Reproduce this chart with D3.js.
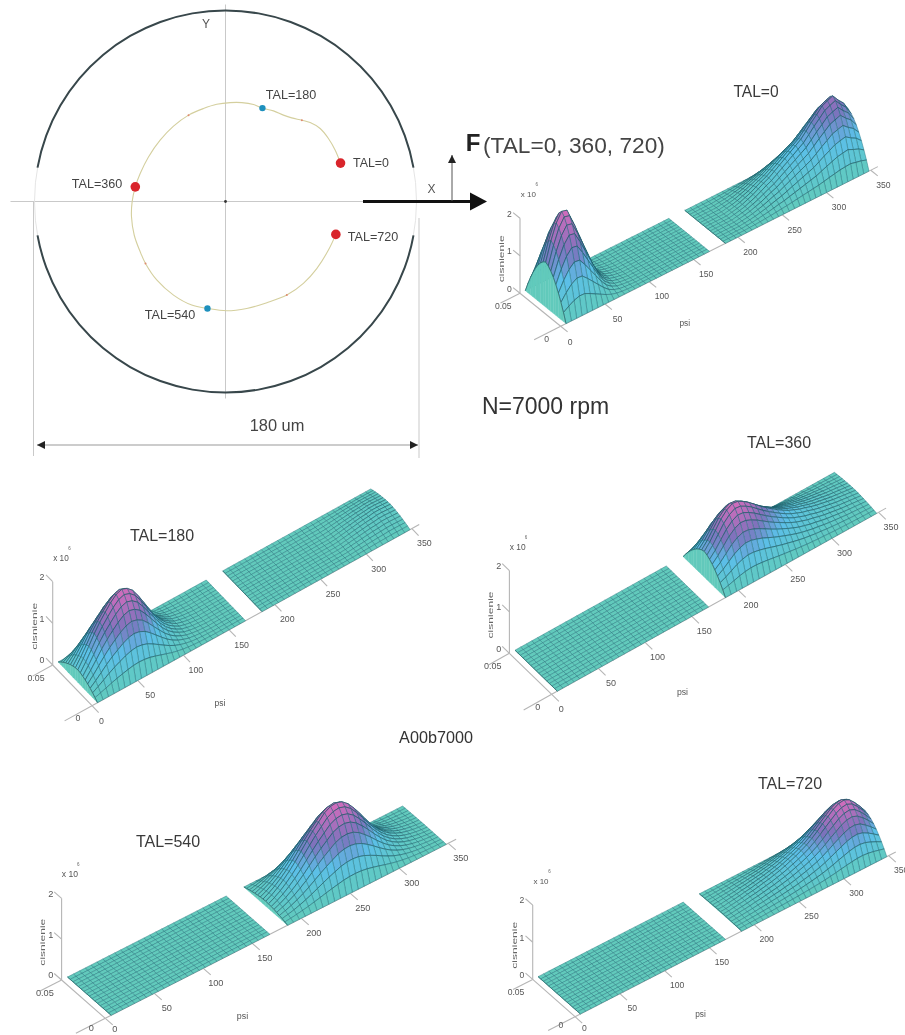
<!DOCTYPE html>
<html>
<head>
<meta charset="utf-8">
<script src="https://cdnjs.cloudflare.com/ajax/libs/d3/7.8.5/d3.min.js"></script>
<style>
  html, body { margin: 0; padding: 0; background: #fff; }
  svg { display: block; filter: blur(0.3px); }
  text { font-family: "Liberation Sans", sans-serif; }
</style>
</head>
<body>
<div id="chartContainer"></div>
<script>
// psi grid of the two bearing zones, the gap between them is not drawn
var psiA = [6,12,18,24,30,36,42,48,54,60,66,72,78,84,90,96,102,108,114,120,126,132,138,144,150,156,162,168];
var psiB = [186,192,198,204,210,216,222,228,234,240,246,252,258,264,270,276,282,288,294,300,306,312,318,324,330,336,342,348];

// share of the mid-width pressure across the bearing width
var axialShare = [0,0.2,0.38,0.54,0.68,0.8,0.89,0.96,1,0.96,0.89,0.8,0.68,0.54,0.38,0.2,0];

// mid-width pressure (x 10^6)
var tal0A = [1.2,1.7,2.1,2.34,2.3,1.95,1.55,1.15,0.75,0.42,0.22,0.1,0.05,0.02,0,0,0,0,0,0,0,0,0,0,0,0,0,0];
var tal0B = [0,0,0,0,0,0.03,0.06,0.1,0.16,0.22,0.3,0.38,0.45,0.55,0.65,0.75,0.85,0.95,1.05,1.2,1.36,1.5,1.65,1.72,1.78,1.6,1.45,1.2];
var tal180A = [0.3,0.5,0.72,0.95,1.15,1.32,1.48,1.6,1.65,1.6,1.48,1.28,1.05,0.82,0.6,0.42,0.28,0.18,0.1,0.06,0.03,0.015,0,0,0,0,0,0];
var tal180B = [0,0,0,0,0,0,0,0,0,0,0,0,0,0,0,0,0,0.01,0.03,0.05,0.07,0.09,0.11,0.12,0.14,0.14,0.13,0.12];
var tal360A = [0,0,0,0,0,0,0,0,0,0,0,0,0,0,0,0,0,0,0,0,0,0,0,0,0,0,0,0];
var tal360B = [0.62,0.78,0.98,1.18,1.32,1.4,1.38,1.3,1.2,1.08,0.96,0.85,0.75,0.65,0.56,0.48,0.42,0.36,0.32,0.27,0.23,0.2,0.17,0.14,0.12,0.1,0.08,0.06];
var tal540A = [0,0,0,0,0,0,0,0,0,0,0,0,0,0,0,0,0,0,0,0,0,0,0,0,0,0,0,0];
var tal540B = [0.12,0.2,0.3,0.42,0.56,0.72,0.9,1.08,1.25,1.4,1.55,1.63,1.65,1.6,1.48,1.3,1.1,0.88,0.68,0.5,0.36,0.25,0.17,0.11,0.07,0.04,0.02,0.01];
var tal720A = [0,0,0,0,0,0,0,0,0,0,0,0,0,0,0,0,0,0,0,0,0,0,0,0,0,0,0,0];
var tal720B = [0.02,0.03,0.05,0.07,0.09,0.12,0.14,0.17,0.2,0.23,0.27,0.31,0.36,0.42,0.48,0.55,0.63,0.73,0.85,0.98,1.1,1.22,1.3,1.32,1.25,1.1,0.92,0.72];

var psiTicks = [0,50,100,150,200,250,300,350];
var pressureTicks = [0,1,2];

// shaft centre orbit in um, from TAL=0 round to TAL=720
var orbitX = [54.2,51.7,48.5,44.6,39.9,36,31.2,27.3,22.6,17.4,13.2,7.7,2.2,-4.1,-10.4,-17.4,-24.5,-30.8,-36.3,-40.2,-42.5,-44,-44.3,-43,-40.2,-37.7,-32.3,-24.5,-15.9,-8.5,0.6,10,19.5,28.9,36.7,43,48.5,52];
var orbitY = [18.1,24.2,29.7,34.4,37.2,38.3,39.4,40.7,42.7,44,45.7,46.6,46.6,45.8,43.8,40.7,35.5,28.9,21,13.2,6.9,-0.2,-7.2,-15.9,-23.7,-29.2,-37.1,-44.1,-48.8,-50.4,-51.5,-50.4,-47.7,-44.1,-38.6,-31.6,-22.9,-15.5];
var bigMarkerIdx = [0,20,37];
var blueMarkerIdx = [9,29];
var tinyMarkerIdx = [5,15,25,33];
var orbitLabels = ["TAL=0","TAL=180","TAL=360","TAL=540","TAL=720"];

var width = 905, height = 1035;
var svg = d3.select("#chartContainer").append("svg")
  .attr("width", width)
  .attr("height", height);

var defs = svg.append("defs");
var head = defs.append("marker").attr("id", "smallHead")
  .attr("viewBox", "0 0 10 10").attr("refX", 10).attr("refY", 5)
  .attr("markerWidth", 9).attr("markerHeight", 8).attr("orient", "auto-start-reverse")
  .attr("markerUnits", "userSpaceOnUse");
head.append("path").attr("d", "M0,0L10,5L0,10Z").attr("fill", "#222");

// ---- orbit diagram ----
var cx = 225.5, cy = 201.5, R = 191;
var um = d3.scaleLinear().domain([-90, 90]).range([-R, R]);
var top_ = svg.append("g").attr("transform", "translate(" + cx + "," + cy + ")");

var gray = "#c9c9c9";
top_.append("line").attr("x1", -215).attr("x2", 140).attr("stroke", gray);
top_.append("line").attr("y1", -197).attr("y2", 197).attr("stroke", gray);
top_.append("circle").attr("r", R).attr("fill", "none").attr("stroke", "#e4e4e4");

var arc = d3.arc().innerRadius(R - 1).outerRadius(R + 1);
var gapAngle = 10.2 * Math.PI / 180;
top_.append("path")
  .attr("d", arc({startAngle: -Math.PI / 2 + gapAngle, endAngle: Math.PI / 2 - gapAngle}))
  .attr("fill", "#38474b");
top_.append("path")
  .attr("d", arc({startAngle: Math.PI / 2 + gapAngle, endAngle: 3 * Math.PI / 2 - gapAngle}))
  .attr("fill", "#38474b");

var orbit = orbitX.map(function (x, i) { return [um(x), -um(orbitY[i])]; });
top_.append("path")
  .attr("d", d3.line().curve(d3.curveCatmullRom)(orbit))
  .attr("fill", "none").attr("stroke", "#d4cf9e").attr("stroke-width", 1.1);
top_.selectAll(".tiny").data(tinyMarkerIdx).enter().append("circle")
  .attr("cx", function (d) { return orbit[d][0]; })
  .attr("cy", function (d) { return orbit[d][1]; })
  .attr("r", 1).attr("fill", "#e08a70");
top_.selectAll(".big").data(bigMarkerIdx).enter().append("circle")
  .attr("cx", function (d) { return orbit[d][0]; })
  .attr("cy", function (d) { return orbit[d][1]; })
  .attr("r", 4.8).attr("fill", "#d9252b");
top_.selectAll(".blue").data(blueMarkerIdx).enter().append("circle")
  .attr("cx", function (d) { return orbit[d][0]; })
  .attr("cy", function (d) { return orbit[d][1]; })
  .attr("r", 3.2).attr("fill", "#1e90bd");
top_.append("circle").attr("r", 1.4).attr("fill", "#333");

// dimension lines
svg.append("line").attr("x1", 33.5).attr("x2", 33.5).attr("y1", 201).attr("y2", 456).attr("stroke", gray);
svg.append("line").attr("x1", 419).attr("x2", 419).attr("y1", 218).attr("y2", 458).attr("stroke", gray);
svg.append("line").attr("x1", 37).attr("x2", 418).attr("y1", 445).attr("y2", 445)
  .attr("stroke", "#999").attr("marker-start", "url(#smallHead)").attr("marker-end", "url(#smallHead)");

// force arrows
svg.append("line").attr("x1", 363).attr("x2", 471).attr("y1", 201.5).attr("y2", 201.5)
  .attr("stroke", "#111").attr("stroke-width", 3.2);
svg.append("path").attr("d", "M470,192.5L487,201.5L470,210.5Z").attr("fill", "#111");
svg.append("line").attr("x1", 452).attr("x2", 452).attr("y1", 201).attr("y2", 155)
  .attr("stroke", "#555").attr("marker-end", "url(#smallHead)");

function label(x, y, txt, size, col) {
  return svg.append("text").attr("x", x).attr("y", y)
    .attr("text-anchor", "middle").attr("dominant-baseline", "middle")
    .style("font-size", size + "px").attr("fill", col || "#3a3a3a").text(txt);
}
label(206, 25, "Y", 12, "#555");
label(431.5, 189.5, "X", 12, "#555");
label(371, 164, orbitLabels[0], 12.4, "#444");
label(291, 96, orbitLabels[1], 12.6, "#444");
label(97, 184.5, orbitLabels[2], 12.6, "#444");
label(170, 316, orbitLabels[3], 12.6, "#444");
label(373, 238, orbitLabels[4], 12.6, "#444");
label(277, 427, "180 um", 16.4, "#444");
label(473, 145, "F", 24, "#222").style("font-weight", "bold");
svg.append("text").attr("x", 483).attr("y", 146.5).attr("dominant-baseline", "middle")
  .style("font-size", "22.7px").attr("fill", "#444").text("(TAL=0, 360, 720)");
label(545.5, 408, "N=7000 rpm", 23, "#333");
label(436, 739, "A00b7000", 16.2, "#333");

// ---- pressure surfaces ----
var colour = d3.scaleLinear()
  .domain([0, 0.13, 0.38, 0.64, 1])
  .range(["#62cabc", "#5fc8cc", "#5cbfe8", "#7c72bc", "#d46cbc"]);

var panels = [
  {title: "TAL=0",   tx: 756, ty: 93,    a: tal0A,   b: tal0B,   ox: 560.7, oy: 326.3, px: 44.3, py: -22.3, zx: -40.7, zy: -33,   h: 75,   fs: 8.6, dy0: 16,   dz0: 13},
  {title: "TAL=180", tx: 162, ty: 536.5, a: tal180A, b: tal180B, ox: 92,    oy: 705.7, px: 45.7, py: -25.3, zx: -39.3, zy: -40.7, h: 83.3, fs: 8.8, dy0: 16,   dz0: 13},
  {title: "TAL=360", tx: 779, ty: 444,   a: tal360A, b: tal360B, ox: 551.7, oy: 694.3, px: 46.7, py: -26,   zx: -42.3, zy: -41,   h: 82.7, fs: 9,   dy0: 15.7, dz0: 13},
  {title: "TAL=540", tx: 168, ty: 842.5, a: tal540A, b: tal540B, ox: 105.3, oy: 1018.3, px: 49,  py: -25,   zx: -43.7, zy: -38.3, h: 81.7, fs: 9.2, dy0: 11.5, dz0: 10.5},
  {title: "TAL=720", tx: 790, ty: 785,   a: tal720A, b: tal720B, ox: 575,   oy: 1016.7, px: 44.8, py: -23,  zx: -42.3, zy: -37.3, h: 74.3, fs: 8.6, dy0: 11.6, dz0: 9.3}
];

panels.forEach(function (p) {
  var g = svg.append("g");
  var psiX = d3.scaleLinear().domain([0, 50]).range([0, p.px]);
  var psiY = d3.scaleLinear().domain([0, 50]).range([0, p.py]);
  var zX = d3.scaleLinear().domain([0, 0.05]).range([0, p.zx]);
  var zY = d3.scaleLinear().domain([0, 0.05]).range([0, p.zy]);
  var hY = d3.scaleLinear().domain([0, 2]).range([0, -p.h]);
  var zAt = d3.scaleLinear().domain([0, axialShare.length - 1]).range([0, 0.05]);

  function project(psi, z, v) {
    return [p.ox + psiX(psi) + zX(z), p.oy + psiY(psi) + zY(z) + hY(v)];
  }
  function seg(a, b) {
    g.append("line").attr("x1", a[0]).attr("y1", a[1]).attr("x2", b[0]).attr("y2", b[1])
      .attr("stroke", "#b5b5b5").attr("stroke-width", 1.1);
  }

  // axes go under the surface
  seg(project(0, 0, 0), project(358, 0, 0));
  seg(project(0, 0, 0), project(0, 0.05, 0));
  seg(project(0, 0.05, 0), project(0, 0.05, 2));
  var tickPsi = 0.17 * 0.05;
  psiTicks.forEach(function (t) {
    var s = project(t, 0, 0);
    seg(s, project(t, -tickPsi, 0));
    if (t === 0) label(s[0] + 9.5, s[1] + p.dy0, t, p.fs, "#555");
    else label(s[0] + 12.5, s[1] + 15.5, t, p.fs, "#555");
  });
  pressureTicks.forEach(function (t) {
    var s = project(0, 0.05, t);
    seg(s, project(0, 0.05 + tickPsi, t));
    label(s[0] - 10.7, s[1] - 4, t, p.fs, "#555");
  });
  seg(project(0, 0, 0), project(-30, 0, 0));
  seg(project(0, 0.05, 0), project(-22, 0.05, 0));
  var o = project(0, 0, 0), v0 = project(0, 0.05, 0), v2 = project(0, 0.05, 2);
  label(o[0] - 14, o[1] + p.dz0, "0", p.fs, "#555");
  label(v0[0] - 16.7, v0[1] + 13.3, "0.05", p.fs, "#555");
  label(v2[0] + 8.3, v2[1] - 23.3, "x 10", p.fs - 0.6, "#555");
  label(v2[0] + 16.7, v2[1] - 33, "6", 4.5, "#666");
  label(o[0] + 2.8 * p.px, o[1] - 2, "psi", p.fs - 0.3, "#555");
  g.append("text")
    .attr("transform", "translate(" + (v2[0] - 18.3) + "," + (v2[1] + p.h / 2 + 3) + ") rotate(-90)")
    .attr("text-anchor", "middle").attr("dominant-baseline", "middle")
    .attr("textLength", 47).attr("lengthAdjust", "spacingAndGlyphs")
    .style("font-size", "8px").attr("fill", "#666").text("cisnienie");

  label(p.tx, p.ty, p.title, p.title === "TAL=0" ? 15.6 : 16, "#3a3a3a");

  // surface, painted far to near
  var maxP = d3.max(p.a.concat(p.b));
  var surf = svg.append("g");
  [[psiB, p.b], [psiA, p.a]].forEach(function (zone) {
    var grid = zone[0], vals = zone[1];
    for (var i = grid.length - 2; i >= 0; i--) {
      for (var j = axialShare.length - 2; j >= 0; j--) {
        var q00 = project(grid[i], zAt(j), vals[i] * axialShare[j]);
        var q10 = project(grid[i + 1], zAt(j), vals[i + 1] * axialShare[j]);
        var q11 = project(grid[i + 1], zAt(j + 1), vals[i + 1] * axialShare[j + 1]);
        var q01 = project(grid[i], zAt(j + 1), vals[i] * axialShare[j + 1]);
        var mean = (vals[i] * axialShare[j] + vals[i + 1] * axialShare[j] + vals[i + 1] * axialShare[j + 1] + vals[i] * axialShare[j + 1]) / 4;
        surf.append("path")
          .attr("d", "M" + [q00, q10, q11, q01].join("L") + "Z")
          .attr("fill", colour(mean / maxP))
          .attr("stroke", "#1f6f78").attr("stroke-width", 0.5).attr("stroke-opacity", 0.85);
        // lines along psi turn into the dark arches only where the surface is raised
        var raised = Math.min(1, mean / 0.15);
        surf.append("path")
          .attr("d", "M" + [q01, q11].join("L"))
          .attr("fill", "none").attr("stroke", "#143f4a").attr("stroke-width", 0.55)
          .attr("stroke-opacity", 0.7 * raised);
      }
    }
    // start of the zone: wall from the flat base up to the first section
    for (var j2 = axialShare.length - 2; j2 >= 0; j2--) {
      var w0 = project(grid[0], zAt(j2), 0);
      var w1 = project(grid[0], zAt(j2 + 1), 0);
      var w2 = project(grid[0], zAt(j2 + 1), vals[0] * axialShare[j2 + 1]);
      var w3 = project(grid[0], zAt(j2), vals[0] * axialShare[j2]);
      surf.append("path")
        .attr("d", "M" + [w0, w1, w2, w3].join("L") + "Z")
        .attr("fill", colour(0))
        .attr("stroke", colour(0)).attr("stroke-width", 0.4);
    }
    var first = axialShare.map(function (s, j) { return project(grid[0], zAt(j), vals[0] * s); });
    surf.append("path").attr("d", d3.line()(first))
      .attr("fill", "none").attr("stroke", "#143f4a").attr("stroke-width", 0.7).attr("stroke-opacity", 0.8);
  });
});
</script>
</body>
</html>
